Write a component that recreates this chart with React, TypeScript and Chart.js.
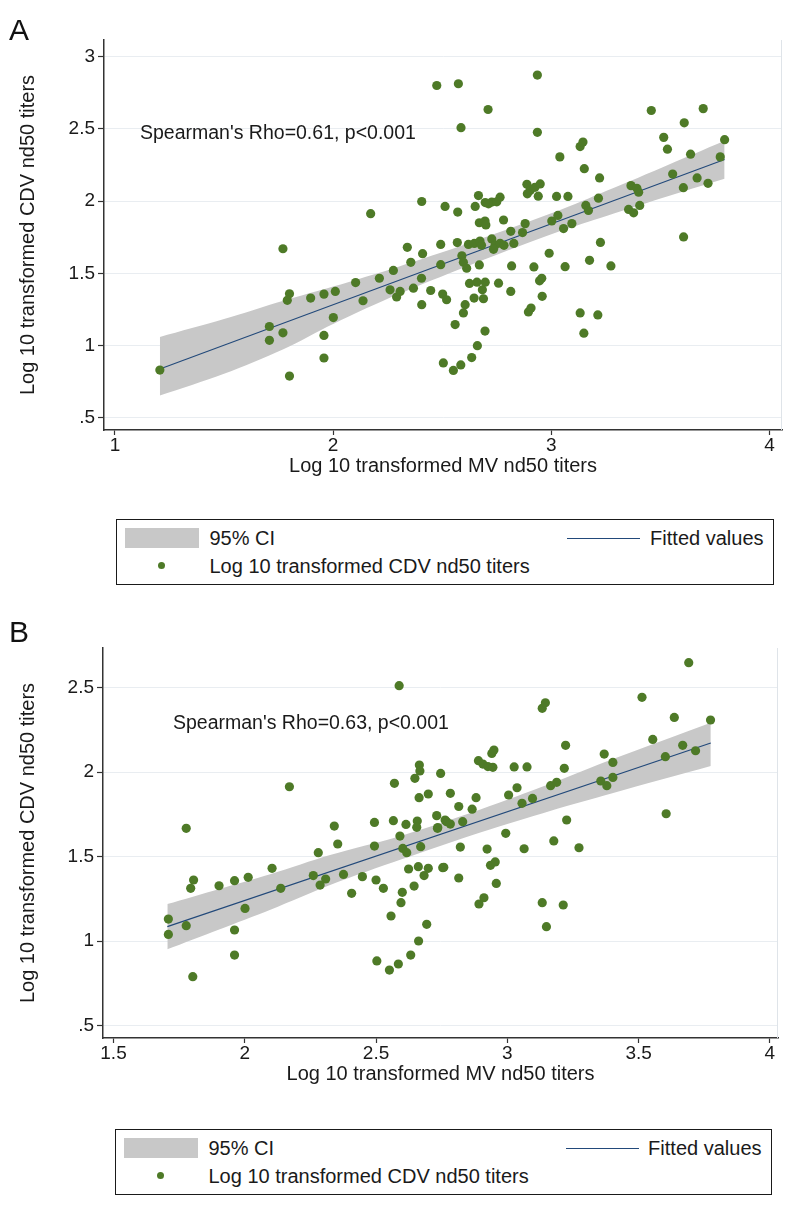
import React, { useEffect, useRef } from "react";
import { Chart, registerables } from "chart.js";
Chart.register(...registerables);

// ---------- Panel A data ----------
const aX = [2.475, 2.406, 2.513, 2.172, 1.770, 2.340, 2.410, 2.493, 2.356, 2.493, 2.276, 2.212, 2.405, 2.103, 2.261, 2.291, 2.307, 2.368, 2.447, 2.502, 2.520, 2.406, 2.137, 2.010, 1.958, 1.897, 1.800, 1.790, 2.001, 1.708, 1.708, 1.770, 1.958, 1.958, 1.800, 1.206, 2.505,
  2.936, 2.574, 2.710, 2.586, 2.936, 3.458, 3.696, 3.609, 3.515, 3.532, 3.638, 3.794, 3.774, 3.556, 3.668, 3.605, 3.718, 3.606, 3.132, 3.145, 3.039, 3.151, 3.221, 3.365, 3.400, 3.392, 3.354, 3.377, 3.405, 3.216, 3.158, 3.170, 3.024, 3.076, 2.888, 2.903, 2.925, 2.949, 2.940, 2.890, 3.002, 3.030, 3.056, 3.094, 2.880, 2.868, 2.814, 2.781, 2.828, 2.765, 2.727, 2.712, 2.666, 2.651, 2.571, 2.697, 2.750, 2.670, 2.696, 2.700, 2.569, 2.620, 2.647, 2.673, 2.680, 2.727, 2.742, 2.765, 2.783, 2.735, 2.590, 2.597, 2.612, 2.670, 2.818, 2.920, 2.990, 3.063, 3.175, 3.225, 3.273, 2.625, 2.659, 2.697, 2.684, 2.758, 2.814, 2.946, 2.956, 2.958, 2.646, 2.689, 2.605, 2.597, 2.559, 2.696, 2.895, 2.907, 3.132, 3.213, 3.149, 2.661, 2.635, 2.551, 2.585];
const aY = [2.800, 1.997, 1.963, 1.913, 1.670, 1.680, 1.636, 1.700, 1.576, 1.560, 1.520, 1.466, 1.466, 1.436, 1.386, 1.336, 1.375, 1.397, 1.381, 1.356, 1.317, 1.283, 1.310, 1.375, 1.356, 1.329, 1.358, 1.313, 1.194, 1.132, 1.036, 1.088, 1.070, 0.914, 0.789, 0.830, 0.880,
  2.872, 2.812, 2.634, 2.508, 2.476, 2.627, 2.640, 2.542, 2.441, 2.359, 2.325, 2.425, 2.306, 2.187, 2.160, 2.093, 2.123, 1.752, 2.377, 2.409, 2.306, 2.224, 2.160, 2.107, 2.061, 2.089, 1.942, 1.919, 1.970, 2.020, 1.970, 1.935, 2.032, 2.032, 2.116, 2.073, 2.095, 2.119, 2.034, 2.050, 1.862, 1.901, 1.810, 1.844, 1.844, 1.782, 1.791, 1.869, 1.707, 2.027, 1.993, 1.981, 2.038, 1.963, 1.924, 1.990, 1.995, 1.850, 1.862, 1.835, 1.713, 1.700, 1.707, 1.723, 1.695, 1.738, 1.694, 1.708, 1.694, 1.666, 1.621, 1.576, 1.535, 1.558, 1.551, 1.544, 1.639, 1.546, 1.590, 1.714, 1.551, 1.430, 1.439, 1.439, 1.386, 1.432, 1.375, 1.448, 1.466, 1.341, 1.329, 1.324, 1.283, 1.226, 1.145, 1.100, 1.233, 1.260, 1.226, 1.212, 1.086, 0.999, 0.917, 0.828, 0.866];
const aFitX = [1.206, 3.794];
const aFitY = [0.838, 2.288];
const aBandX = [1.206, 1.5, 1.772, 2.0, 2.3, 2.6, 3.0, 3.224, 3.5, 3.794];
const aBandLo = [0.654, 0.805, 0.975, 1.150, 1.356, 1.541, 1.771, 1.883, 2.018, 2.155];
const aBandHi = [1.059, 1.183, 1.310, 1.408, 1.546, 1.697, 1.915, 2.053, 2.228, 2.418];
const aXTicks = [1, 2, 3, 4];
const aYTicks = [0.5, 1, 1.5, 2, 2.5, 3];

// ---------- Panel B data ----------
const bX = [2.588, 2.665, 2.667, 2.648, 2.746, 2.570, 2.170, 2.664, 2.699, 1.777, 2.341, 2.494, 2.566, 2.614, 2.657, 2.655, 2.731, 2.734, 2.769, 2.354, 2.494, 2.591, 2.602, 2.617, 2.670, 2.280, 2.104, 2.624, 2.661, 2.699, 2.754, 2.683, 2.261, 2.308, 2.287, 2.376, 2.448, 2.500, 2.528, 2.645, 2.407, 2.600, 2.595, 2.557, 2.693, 2.662, 2.632, 2.503, 2.551, 2.585, 2.137, 2.013, 1.961, 1.902, 1.805, 1.794, 2.001, 1.961, 1.961, 1.802, 1.709, 1.709, 1.777,
  3.691, 3.513, 3.636, 3.774, 3.554, 3.602, 3.668, 3.717, 3.605, 3.133, 3.145, 3.222, 3.217, 3.369, 3.402, 3.356, 3.379, 3.402, 3.165, 3.188, 3.226, 3.177, 3.273, 3.026, 3.075, 3.005, 3.037, 3.056, 3.096, 2.994, 3.064, 2.890, 2.907, 2.926, 2.945, 2.941, 2.949, 2.783, 2.881, 2.815, 2.866, 2.763, 2.783, 2.830, 2.821, 2.923, 2.936, 2.954, 2.958, 2.815, 2.758, 2.892, 2.911, 3.133, 3.213, 3.149, 2.735];
const bY = [2.512, 2.042, 2.007, 1.964, 1.993, 1.934, 1.914, 1.849, 1.871, 1.668, 1.681, 1.703, 1.713, 1.691, 1.711, 1.674, 1.743, 1.668, 1.707, 1.575, 1.563, 1.622, 1.549, 1.524, 1.559, 1.524, 1.431, 1.427, 1.441, 1.431, 1.435, 1.388, 1.388, 1.368, 1.332, 1.395, 1.382, 1.362, 1.313, 1.326, 1.283, 1.289, 1.228, 1.149, 1.100, 1.001, 0.918, 0.883, 0.829, 0.865, 1.313, 1.378, 1.358, 1.328, 1.362, 1.313, 1.194, 1.066, 0.918, 0.790, 1.131, 1.040, 1.092,
  2.648, 2.443, 2.324, 2.309, 2.194, 2.092, 2.159, 2.127, 1.754, 2.378, 2.411, 2.159, 2.023, 2.107, 2.058, 1.948, 1.920, 1.969, 1.920, 1.940, 1.717, 1.593, 1.553, 2.031, 2.031, 1.865, 1.908, 1.816, 1.845, 1.638, 1.547, 2.068, 2.048, 2.033, 2.029, 2.111, 2.131, 1.875, 1.849, 1.797, 1.781, 1.717, 1.693, 1.707, 1.557, 1.545, 1.449, 1.469, 1.342, 1.374, 1.437, 1.220, 1.257, 1.228, 1.214, 1.086, 1.672];
const bFitX = [1.705, 3.775];
const bFitY = [1.086, 2.173];
const bBandX = [1.705, 1.9, 2.1, 2.325, 2.6, 2.9, 3.163, 3.4, 3.775];
const bBandLo = [0.952, 1.068, 1.188, 1.333, 1.486, 1.645, 1.771, 1.876, 2.037];
const bBandHi = [1.220, 1.308, 1.398, 1.510, 1.626, 1.781, 1.931, 2.076, 2.293];
const bXTicks = [1.5, 2, 2.5, 3, 3.5, 4];
const bYTicks = [0.5, 1, 1.5, 2, 2.5];

const FONT = "'Liberation Sans', Arial, sans-serif";
const POINT = "#4e7a27";
const BAND = "#c8c8c8";
const FIT = "#22497a";
const TEXT = "#1a1a1a";

const fmt = (v: number) => (v < 1 ? String(v).replace(/^0/, "") : String(v));
const pts = (xs: number[], ys: number[]) => xs.map((x, i) => ({ x, y: ys[i] }));

const frame = {
  id: "frame",
  beforeDatasetsDraw(chart: any) {
    const { ctx, chartArea: a } = chart;
    ctx.save();
    ctx.strokeStyle = "#dfe4e9";
    ctx.lineWidth = 1;
    ctx.beginPath();
    ctx.moveTo(a.right - 0.5, a.top);
    ctx.lineTo(a.right - 0.5, a.bottom);
    ctx.stroke();
    ctx.restore();
  },
};

type PanelCfg = {
  xs: number[]; ys: number[];
  fitX: number[]; fitY: number[];
  bandX: number[]; bandLo: number[]; bandHi: number[];
  xTicks: number[]; yTicks: number[];
  xMin: number; xMax: number; yMin: number; yMax: number;
  yAxisWidth: number; padRight: number;
};

function Panel({ cfg, top }: { cfg: PanelCfg; top: number }) {
  const ref = useRef<HTMLCanvasElement>(null);
  useEffect(() => {
    if (!ref.current) return;
    const chart = new Chart(ref.current, {
      type: "line",
      data: {
        datasets: [
          {
            label: "Log 10 transformed CDV nd50 titers",
            data: pts(cfg.xs, cfg.ys),
            showLine: false,
            pointRadius: 4.6,
            pointBackgroundColor: POINT,
            pointBorderColor: POINT,
            pointBorderWidth: 0,
          } as any,
          {
            label: "Fitted values",
            data: pts(cfg.fitX, cfg.fitY),
            borderColor: FIT,
            borderWidth: 1.1,
            pointRadius: 0,
            fill: false,
          },
          {
            label: "95% CI",
            data: pts(cfg.bandX, cfg.bandHi),
            borderWidth: 0,
            borderColor: BAND,
            pointRadius: 0,
            backgroundColor: BAND,
            fill: "+1",
            tension: 0.3,
          },
          {
            label: "lo",
            data: pts(cfg.bandX, cfg.bandLo),
            borderWidth: 0,
            borderColor: BAND,
            pointRadius: 0,
            fill: false,
            tension: 0.3,
          },
        ],
      },
      options: {
        animation: false,
        responsive: false,
        events: [],
        layout: { padding: { top: 40, right: cfg.padRight, left: 0, bottom: 0 } },
        plugins: { legend: { display: false }, tooltip: { enabled: false } },
        scales: {
          x: {
            type: "linear",
            min: cfg.xMin,
            max: cfg.xMax,
            afterBuildTicks: (s: any) => { s.ticks = cfg.xTicks.map((v) => ({ value: v })); },
            afterFit: (s: any) => { s.height = 90; },
            ticks: {
              font: { family: FONT, size: 19 },
              color: TEXT,
              padding: -1,
              maxRotation: 0,
              autoSkip: false,
              callback: (v: any) => fmt(Number(v)),
            },
            grid: { drawOnChartArea: false, drawTicks: true, tickLength: 5, tickColor: "#333", tickWidth: 1.2 },
            border: { display: true, color: "#333", width: 1.5 },
            title: {
              display: true,
              text: "Log 10 transformed MV nd50 titers",
              font: { family: FONT, size: 20 },
              color: TEXT,
              padding: { top: 0, bottom: 42 },
            },
          },
          y: {
            type: "linear",
            min: cfg.yMin,
            max: cfg.yMax,
            afterBuildTicks: (s: any) => { s.ticks = cfg.yTicks.map((v) => ({ value: v })); },
            afterFit: (s: any) => { s.width = cfg.yAxisWidth; },
            ticks: {
              font: { family: FONT, size: 19 },
              color: TEXT,
              padding: 3,
              autoSkip: false,
              callback: (v: any) => fmt(Number(v)),
            },
            grid: { color: "#e9edf1", lineWidth: 1, drawTicks: true, tickLength: 6, tickColor: "#333", tickWidth: 1.2 },
            border: { display: true, color: "#333", width: 1.5 },
            title: {
              display: true,
              text: "Log 10 transformed CDV nd50 titers",
              font: { family: FONT, size: 20 },
              color: TEXT,
              padding: { top: 16, bottom: 0 },
            },
          },
        },
      },
      plugins: [frame],
    } as any);
    return () => chart.destroy();
  }, [cfg]);
  return (
    <canvas
      ref={ref}
      width={800}
      height={520}
      style={{ position: "absolute", left: 0, top, width: 800, height: 520, display: "block" }}
    />
  );
}

function Legend({ top, left, width }: { top: number; left: number; width: number }) {
  const txt: React.CSSProperties = {
    position: "absolute",
    fontFamily: FONT,
    fontSize: 20,
    lineHeight: "24px",
    color: TEXT,
    whiteSpace: "nowrap",
  };
  return (
    <div
      style={{
        position: "absolute",
        left,
        top,
        width,
        height: 66,
        border: "1.5px solid #1a1a1a",
        boxSizing: "border-box",
        background: "#fff",
      }}
    >
      <div style={{ position: "absolute", left: 7.5, top: 7.5, width: 74, height: 20, background: BAND }} />
      <span style={{ ...txt, left: 92.5, top: 6 }}>95% CI</span>
      <div style={{ position: "absolute", left: 449.5, top: 17.5, width: 73, height: 1.4, background: FIT }} />
      <span style={{ ...txt, right: 9.5, top: 6 }}>Fitted values</span>
      <div style={{ position: "absolute", left: 41, top: 42, width: 7, height: 7, borderRadius: "50%", background: POINT }} />
      <span style={{ ...txt, left: 92.5, top: 33.5 }}>Log 10 transformed CDV nd50 titers</span>
    </div>
  );
}

const cfgA: PanelCfg = {
  xs: aX, ys: aY, fitX: aFitX, fitY: aFitY, bandX: aBandX, bandLo: aBandLo, bandHi: aBandHi,
  xTicks: aXTicks, yTicks: aYTicks, xMin: 0.95, xMax: 4.057, yMin: 0.4155, yMax: 3.115,
  yAxisWidth: 104, padRight: 18,
};
const cfgB: PanelCfg = {
  xs: bX, ys: bY, fitX: bFitX, fitY: bFitY, bandX: bBandX, bandLo: bBandLo, bandHi: bBandHi,
  xTicks: bXTicks, yTicks: bYTicks, xMin: 1.46, xMax: 4.031, yMin: 0.427, yMax: 2.735,
  yAxisWidth: 103, padRight: 22,
};

export default function App() {
  const note: React.CSSProperties = {
    position: "absolute",
    fontFamily: FONT,
    fontSize: 19.5,
    lineHeight: "22px",
    color: TEXT,
    whiteSpace: "nowrap",
  };
  const letter: React.CSSProperties = {
    position: "absolute",
    fontFamily: FONT,
    fontSize: 30,
    lineHeight: "30px",
    color: "#111",
  };
  return (
    <div style={{ position: "absolute", left: 0, top: 0, width: 800, height: 1211, background: "#fff", overflow: "hidden" }}>
      <Panel cfg={cfgA} top={0} />
      <Panel cfg={cfgB} top={608} />
      <span style={{ ...letter, left: 9, top: 15 }}>A</span>
      <span style={{ ...letter, left: 9, top: 617 }}>B</span>
      <span style={{ ...note, left: 140, top: 121 }}>Spearman's Rho=0.61, p&lt;0.001</span>
      <span style={{ ...note, left: 173, top: 711 }}>Spearman's Rho=0.63, p&lt;0.001</span>
      <Legend top={519} left={116} width={658} />
      <Legend top={1129} left={115} width={657} />
    </div>
  );
}
